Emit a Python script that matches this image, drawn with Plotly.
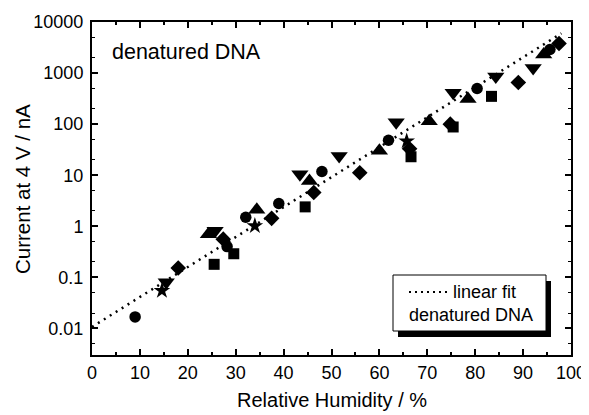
import plotly.graph_objects as go

# ---- data ----
circle_x = [9.0, 28.2, 32.1, 39.0, 48.0, 61.9, 80.4, 95.6]
circle_y = [0.0168, 0.40, 1.5, 2.8, 11.8, 48.5, 500, 2900]

square_x = [25.5, 29.6, 44.5, 66.6, 75.4, 83.4]
square_y = [0.18, 0.29, 2.4, 23, 88, 350]

tri_up_x = [24.3, 34.4, 45.4, 60.0, 70.4, 78.5, 94.3]
tri_up_y = [0.70, 2.1, 7.7, 30, 114, 310, 2300]

tri_down_x = [15.5, 25.7, 43.4, 51.6, 63.5, 75.4, 84.3, 92.1]
tri_down_y = [0.08, 0.82, 10.4, 23.7, 109, 410, 860, 1250]

diamond_x = [18.0, 27.4, 37.5, 46.3, 55.9, 66.3, 74.8, 89.0, 97.5]
diamond_y = [0.153, 0.56, 1.43, 4.6, 11.2, 33, 100, 656, 3800]

star_x = [14.6, 34.0, 65.7]
star_y = [0.055, 1.02, 46.5]

fit_x = [0, 98]
fit_y = [0.0107, 6000]

x_ticks = [0, 10, 20, 30, 40, 50, 60, 70, 80, 90, 100]
y_ticks = [0.01, 0.1, 1, 10, 100, 1000, 10000]
y_ticklabels = ["0.01", "0.1", "1", "10", "100", "1000", "10000"]

FONT = "Liberation Sans, Arial, sans-serif"

fig = go.Figure()

fig.add_trace(go.Scatter(x=fit_x, y=fit_y, mode="lines",
                         line=dict(color="black", width=2.5, dash="2px,5px"),
                         name="linear fit", showlegend=False))

series = [
    (circle_x, circle_y, "circle", 11.5),
    (square_x, square_y, "square", 11),
    (tri_up_x, tri_up_y, "triangle-up", 15),
    (tri_down_x, tri_down_y, "triangle-down", 15),
    (diamond_x, diamond_y, "diamond", 12),
    (star_x, star_y, "star", 12.5),
]
for xs, ys, sym, sz in series:
    fig.add_trace(go.Scatter(x=xs, y=ys, mode="markers",
                             marker=dict(symbol=sym, size=sz, color="black",
                                         line=dict(width=0)),
                             name="denatured DNA", showlegend=False))

# page body has an 8px margin: plot area spans 92..571 x 22..355 on screen
px_w, px_h = 479.0, 333.0
def px2x(p):
    return (p - 92) / px_w
def px2y(p):
    return 1 - (p - 22) / px_h

# legend box (manual, with drop shadow)
fig.add_shape(type="rect", xref="paper", yref="paper",
              x0=px2x(398), x1=px2x(551), y0=px2y(337), y1=px2y(281),
              fillcolor="black", line=dict(width=0))
fig.add_shape(type="rect", xref="paper", yref="paper",
              x0=px2x(393), x1=px2x(546), y0=px2y(331), y1=px2y(275),
              fillcolor="white", line=dict(color="black", width=1))
fig.add_shape(type="line", xref="paper", yref="paper",
              x0=px2x(409), x1=px2x(448), y0=px2y(292), y1=px2y(292),
              line=dict(color="black", width=2, dash="2px,4px"))
fig.add_annotation(text="linear fit", xref="paper", yref="paper",
                   x=px2x(451), y=px2y(292), xanchor="left", yanchor="middle",
                   showarrow=False, font=dict(family=FONT, size=18, color="black"))
fig.add_annotation(text="denatured DNA", xref="paper", yref="paper",
                   x=px2x(407), y=px2y(315), xanchor="left", yanchor="middle",
                   showarrow=False, font=dict(family=FONT, size=18, color="black"))

# in-plot label
fig.add_annotation(text="denatured DNA", xref="paper", yref="paper",
                   x=px2x(110), y=px2y(52), xanchor="left", yanchor="middle",
                   showarrow=False, font=dict(family=FONT, size=21.5, color="black"))

# axis titles
fig.add_annotation(text="Relative Humidity / %", xref="paper", yref="paper",
                   x=px2x(332), y=px2y(400), xanchor="center", yanchor="middle",
                   showarrow=False, font=dict(family=FONT, size=20, color="black"))
fig.add_annotation(text="Current at 4 V / nA", xref="paper", yref="paper",
                   x=px2x(22), y=px2y(189), xanchor="center", yanchor="middle",
                   textangle=-90,
                   showarrow=False, font=dict(family=FONT, size=20.5, color="black"))

fig.update_xaxes(range=[0, 100], tickvals=x_ticks, automargin=False,
                 ticks="inside", ticklen=6, tickwidth=1.5, tickcolor="black",
                 minor=dict(dtick=5, ticks="inside", ticklen=3, tickwidth=1.5,
                            tickcolor="black"),
                 showline=True, linecolor="black", linewidth=2, mirror="allticks",
                 showgrid=False, zeroline=False,
                 tickfont=dict(family=FONT, size=18, color="black"))

fig.update_yaxes(type="log", range=[-2.52, 4], tickvals=y_ticks, ticktext=y_ticklabels,
                 automargin=False, ticklabelstandoff=3,
                 ticks="inside", ticklen=6, tickwidth=1.5, tickcolor="black",
                 minor=dict(ticks="inside", ticklen=3, tickwidth=1, tickcolor="black"),
                 showline=True, linecolor="black", linewidth=2, mirror="allticks",
                 showgrid=False, zeroline=False,
                 tickfont=dict(family=FONT, size=18, color="black"))

fig.update_layout(width=581, height=407,
                  margin=dict(l=84, r=18, t=14, b=60),
                  plot_bgcolor="white", paper_bgcolor="white",
                  showlegend=False)

fig.write_html("out.html")
